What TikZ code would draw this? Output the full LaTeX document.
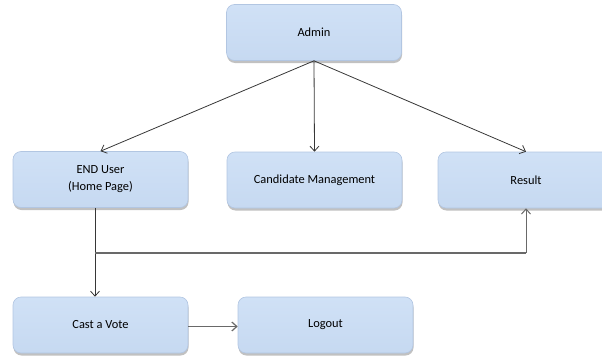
\documentclass[tikz,border=0pt]{standalone}
\usepackage{fontspec}
\setmainfont{Carlito}
\usetikzlibrary{arrows.meta,shadows,calc}
\definecolor{boxfill}{RGB}{198,217,241}
\definecolor{boxtop}{RGB}{208,225,246}
\definecolor{boxline}{RGB}{178,198,226}
\definecolor{lnk}{RGB}{55,55,55}
\definecolor{lnkgray}{RGB}{105,105,105}
\tikzset{
  box/.style={rounded corners=8pt, top color=boxtop, bottom color=boxfill,
    draw=boxline, line width=0.6pt, minimum width=175pt, minimum height=56pt,
    align=center, font=\fontsize{12.4}{17}\selectfont, text=black,
    drop shadow={shadow xshift=0.5pt, shadow yshift=-2.5pt, opacity=0.35, fill=black!70}},
  conn/.style={draw=lnk, line width=0.8pt, -{Straight Barb[length=5pt,width=9pt]}},
  conng/.style={draw=lnkgray, line width=1.4pt},
}
\begin{document}
\begin{tikzpicture}[x=1pt,y=-1pt]
\path[use as bounding box] (0,0) rectangle (602,356);
\clip (0,0) rectangle (602,356);
\node[box] (admin) at (314,32.5) {Admin};
\node[box] (enduser) at (100.5,179.5) {END User\\(Home Page)};
\node[box] (cand) at (314.5,180) {Candidate Management};
\node[box, minimum width=176pt] (result) at (526,180) {Result};
\node[box] (cast) at (100.5,325) {Cast a Vote};
\node[box] (logout) at (325.5,325) {Logout};
\coordinate (j) at (95,253);
\draw[conn] (admin.south) -- (enduser.north);
\draw[conn] (admin.south) -- (cand.north);
\draw[conn] (admin.south) -- (result.north);
\draw[conn] (enduser.south -| j) -- (cast.north -| j);
\draw[conng] (j) -- (j -| result.south);
\draw[conng, line width=1pt, -{Straight Barb[length=5pt,width=9pt]}] (j -| result.south) -- (result.south);
\draw[conn, draw=lnkgray, line width=1.2pt] ([yshift=-1.5pt]cast.east) -- ([yshift=-1.5pt]logout.west);
\end{tikzpicture}
\end{document}
